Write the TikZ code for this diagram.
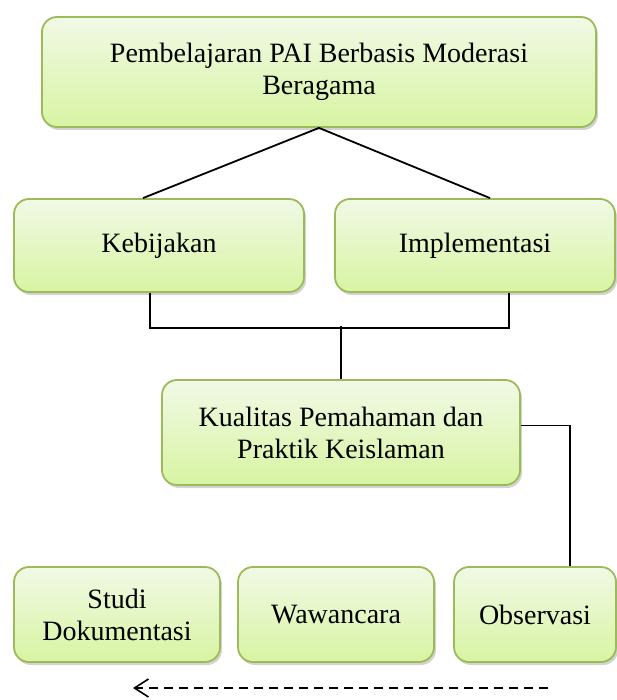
\documentclass[tikz,border=0pt]{standalone}
\usepackage{fontspec}
\setmainfont{Liberation Serif}
\usetikzlibrary{shadows,arrows.meta}
\definecolor{boxline}{HTML}{9BBB59}
\definecolor{boxtop}{HTML}{F1F9E6}
\definecolor{boxbot}{HTML}{D8F4A2}
\begin{document}
\begin{tikzpicture}[x=1pt,y=-1pt,
    box/.style={draw=boxline,line width=1.8pt,rounded corners=15pt,
      top color=boxtop,bottom color=boxbot,
      drop shadow={shadow xshift=2pt,shadow yshift=-3pt,opacity=0.35},
      align=center,inner sep=0pt,font=\fontsize{28}{32}\selectfont},
    link/.style={line width=1.8pt}]
  \useasboundingbox (0,0) rectangle (617,700);

  \node [box,minimum width=554pt,minimum height=110pt] (pai) at (319,72)
    {Pembelajaran PAI Berbasis Moderasi\\Beragama};
  \node [box,minimum width=290pt,minimum height=93pt] (keb) at (159,245.5) {Kebijakan};
  \node [box,minimum width=280pt,minimum height=93pt] (imp) at (475,245.5) {Implementasi};
  \node [box,minimum width=358pt,minimum height=105pt] (kual) at (341,432.5)
    {Kualitas Pemahaman dan\\Praktik Keislaman};
  \node [box,minimum width=206pt,minimum height=95pt] (studi) at (117,614.5)
    {Studi\\Dokumentasi};
  \node [box,minimum width=196pt,minimum height=95pt] (waw) at (336,614.5) {Wawancara};
  \node [box,minimum width=162pt,minimum height=95pt] (obs) at (535,614.5) {Observasi};

  \draw[link] ([xshift=-16pt]keb.north) -- (pai.south) -- ([xshift=15pt]imp.north);
  \draw[link] ([xshift=-9pt]keb.south) -- ++(0,35) -| ([xshift=34pt]imp.south);
  \draw[link] (kual.north) -- ++(0,-53);
  \draw[link] ([yshift=7pt]kual.east) -| ([xshift=35pt]obs.north);

  \coordinate (from) at (548,688);
  \coordinate (to) at (133,688);
  \draw[->,>={Straight Barb[length=14pt,width=18pt]},line width=1.6pt,
    dash pattern=on 9pt off 6pt] (from) -- (to);
\end{tikzpicture}
\end{document}
